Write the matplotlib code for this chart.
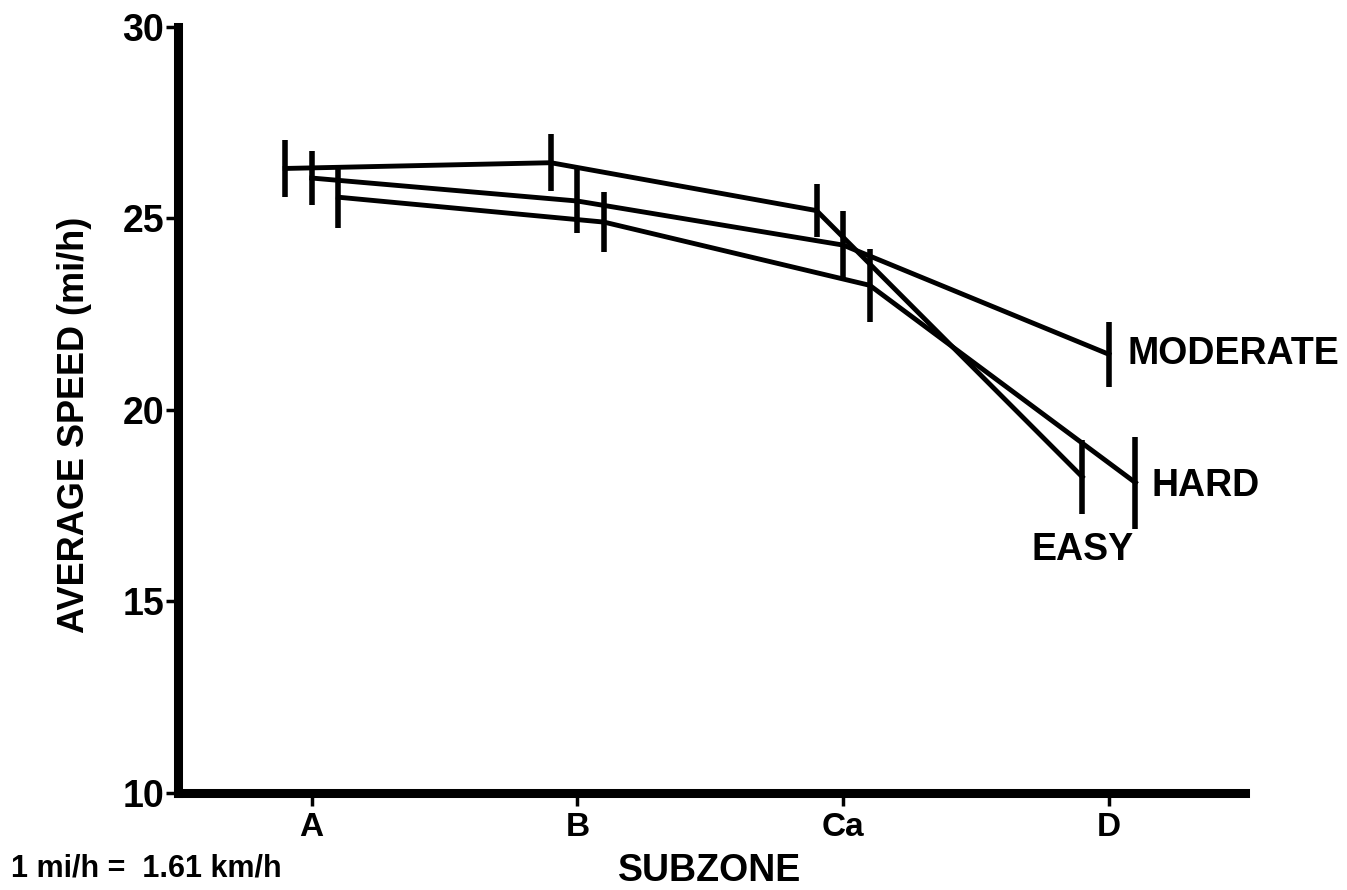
import matplotlib.pyplot as plt
import numpy as np

plt.rcParams['font.family'] = ['Liberation Sans', 'DejaVu Sans']
plt.rcParams['font.weight'] = 'bold'

subzones = ["A", "B", "Ca", "D"]
easy = [26.3, 26.45, 25.2, 18.25]
easy_err = [0.75, 0.75, 0.7, 0.96]
moderate = [26.05, 25.45, 24.3, 21.45]
moderate_err = [0.7, 0.83, 0.89, 0.85]
hard = [25.55, 24.9, 23.25, 18.1]
hard_err = [0.8, 0.78, 0.96, 1.2]

x = np.arange(1, len(subzones) + 1)

fig = plt.figure(figsize=(13.47, 8.90), dpi=100)
ax = fig.add_axes([0.132, 0.109, 0.792, 0.861])

for off, y, e in [(-0.1, easy, easy_err), (0.0, moderate, moderate_err), (0.1, hard, hard_err)]:
    ax.errorbar(x + off, y, yerr=e, fmt='-', color='black', lw=3.5, elinewidth=4, capsize=0)

ax.text(4.07, moderate[3], "MODERATE", fontsize=27, fontweight='bold', ha='left', va='center')
ax.text(4.16, 18.0, "HARD", fontsize=27, fontweight='bold', ha='left', va='center')
ax.text(3.71, 16.35, "EASY", fontsize=27, fontweight='bold', ha='left', va='center')

ax.set_xlim(0.496, 4.511)
ax.set_ylim(10, 30)
ax.set_xticks(x)
ax.set_xticklabels(subzones)
ax.set_yticks([10, 15, 20, 25, 30])
ax.spines['top'].set_visible(False)
ax.spines['right'].set_visible(False)
ax.spines['left'].set_linewidth(6.5)
ax.spines['bottom'].set_linewidth(6.5)
ax.tick_params(axis='both', width=2.5, length=9, direction='out')
ax.tick_params(axis='y', labelsize=27, pad=1)
ax.tick_params(axis='x', labelsize=24, pad=5)
for lab in ax.get_xticklabels() + ax.get_yticklabels():
    lab.set_fontweight('bold')

ax.set_xlabel("SUBZONE", fontsize=27, fontweight='bold')
ax.xaxis.set_label_coords(0.4986, -0.078)
ax.set_ylabel("AVERAGE SPEED (mi/h)", fontsize=26, fontweight='bold')
ax.yaxis.set_label_coords(-0.097, 0.48)
ax.yaxis.label.set_va('center')
fig.text(0.008, 0.024, "1 mi/h =  1.61 km/h", fontsize=22, fontweight='bold', ha='left', va='center')

fig.savefig("out.png", dpi=100)
